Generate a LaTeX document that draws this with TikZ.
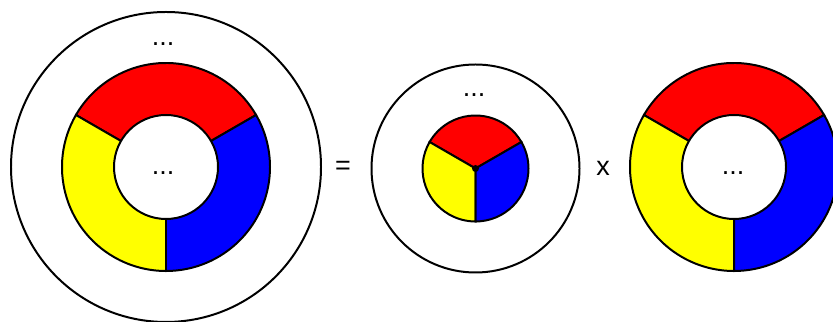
\documentclass[tikz,border=0pt]{standalone}
\usepackage{fontspec}
\setmainfont{Liberation Sans}
\usetikzlibrary{positioning}
\definecolor{ringred}{RGB}{255,0,0}
\definecolor{ringyellow}{RGB}{255,255,0}
\definecolor{ringblue}{RGB}{0,0,255}

\begin{document}
\begin{tikzpicture}[x=0.3mm,y=0.3mm,
    edge/.style={draw=black,line width=1.7pt},
    sign/.style={font=\fontsize{23}{27}\selectfont,inner sep=1pt}]
  \useasboundingbox (0,0) rectangle (833,322);
  \clip (0,0) rectangle (833,322);
  % left: ring inside a big circle
  \draw[edge,fill=white] (166,155) circle (155);
  \foreach \a/\b/\c in {30/150/ringred,150/270/ringyellow,-90/30/ringblue}
    \filldraw[edge,fill=\c] (166,155) -- ++(\a:104) arc[start angle=\a,end angle=\b,radius=104] -- cycle;
  \filldraw[edge,fill=white] (166,155) circle (52);
  \node[sign] (dotsouter) at (163,278) {...};
  \node[sign] (dotsring) at (163,149) {...};
  \node[sign] (equals) at (343,154) {=};
  % middle: pie inside a circle
  \draw[edge,fill=white] (475.5,153.5) circle (104);
  \foreach \a/\b/\c in {30/150/ringred,150/270/ringyellow,-90/30/ringblue}
    \filldraw[edge,fill=\c] (475.5,153.5) -- ++(\a:53) arc[start angle=\a,end angle=\b,radius=53] -- cycle;
  \fill (475.5,153.5) circle (3.5);
  \node[sign] (dotspie) at (474,227) {...};
  \node[sign] (times) at (603,154) {x};
  % right: ring alone
  \foreach \a/\b/\c in {30/150/ringred,150/270/ringyellow,-90/30/ringblue}
    \filldraw[edge,fill=\c] (734,155) -- ++(\a:104) arc[start angle=\a,end angle=\b,radius=104] -- cycle;
  \filldraw[edge,fill=white] (734,155) circle (52);
  \node[sign] (dotsright) at (733,149) {...};
\end{tikzpicture}
\end{document}
